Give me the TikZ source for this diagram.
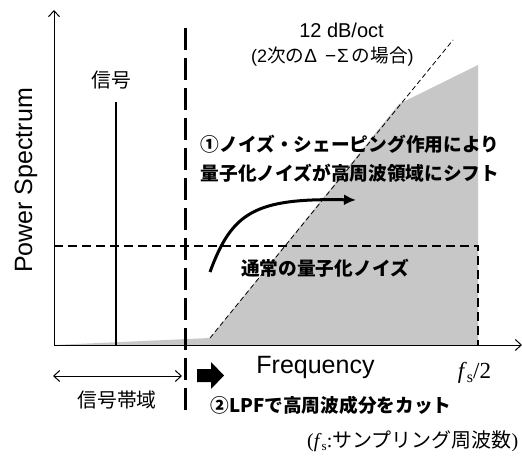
\documentclass[tikz,border=0pt]{standalone}
\usepackage{fontspec}
\setmainfont{Liberation Sans}
\newfontfamily\jp{Noto Sans CJK JP}
\newfontfamily\jpk{Noto Sans CJK JP Black}
\newfontfamily\tms{Liberation Serif}
\usetikzlibrary{arrows.meta}
\tikzset{
  jptext/.style={inner sep=0pt, font=\jp\fontsize{19.8}{22}\selectfont},
  jpbold/.style={inner sep=0pt, font=\jpk\fontsize{18.7}{29}\selectfont, align=center},
  latin/.style={inner sep=0pt, font=\fontsize{25}{30}\selectfont},
  axisline/.style={line width=1pt, -{Straight Barb[length=6pt,width=11pt]}},
  band/.style={line width=1pt, {Straight Barb[length=6pt,width=11pt]}-{Straight Barb[length=6pt,width=11pt]}},
  noisefill/.style={fill=black!22, draw=none},
  thinDash/.style={line width=1.2pt, dash pattern=on 9pt off 5pt},
  slopeDash/.style={line width=0.8pt, dash pattern=on 5pt off 3pt},
  lpfDash/.style={line width=3pt, dash pattern=on 22pt off 8pt},
}
\begin{document}
\begin{tikzpicture}[x=1pt,y=-1pt]
\useasboundingbox (0,0) rectangle (522,457);
% shaped noise
\fill[noisefill] (54,345) -- (210,338) -- (399,104) -- (478,65) -- (478,345) -- cycle;
% axes
\coordinate (O) at (54,345);
\coordinate (ytip) at (54,10);
\coordinate (xtip) at (522,345);
\draw[axisline] (O) -- (ytip);
\draw[axisline] (O) -- (xtip);
% signal
\coordinate (sigtop) at (116,102);
\coordinate (sigbot) at (116,345);
\draw[line width=2.4pt] (sigbot) -- (sigtop);
% flat quantization noise level
\coordinate (nl) at (54,246);
\coordinate (nr) at (478,246);
\coordinate (nb) at (478,345);
\draw[thinDash] (nl) -- (nr) -- (nb);
% 12 dB/oct slope
\coordinate (s0) at (210,338);
\coordinate (s1) at (453,40);
\draw[slopeDash] (s0) -- (s1);
% LPF cut line
\coordinate (c0) at (185,28);
\coordinate (c1) at (185,413);
\draw[lpfDash] (c0) -- (c1);
% curved arrow
\coordinate (a0) at (210,272);
\coordinate (a1) at (356,200);
\draw[line width=3pt, -{Latex[length=12pt,width=11pt]}] (a0) .. controls (232,212) and (255,198) .. (a1);
% signal band arrow
\coordinate (b0) at (53,376);
\coordinate (b1) at (182,376);
\draw[band] (b0) -- (b1);
% block arrow
\fill (197,369) -- (211,369) -- (211,362) -- (224,375.5) -- (211,389) -- (211,382) -- (197,382) -- cycle;
% texts
\node[jptext] (sig) at (111,80) {信号};
\node[latin, rotate=90, anchor=base] (ps) at (32,180.5) {Power Spectrum};
\node[latin, anchor=base] (freq) at (315.5,373) {Frequency};
\node[inner sep=0pt, anchor=base, font=\tms\fontsize{23}{26}\selectfont] (fs2) at (474.5,378) {\itshape f\/\upshape\raisebox{-4pt}{\fontsize{16}{18}\selectfont s}/2};
\node[inner sep=0pt, anchor=base, font=\fontsize{20}{22}\selectfont] (db) at (341.5,38) {12 dB/oct};
\node[inner sep=0pt, anchor=base west, font=\jp\fontsize{18.6}{22}\selectfont] (ds) at (251,63)
  {{\fontsize{18}{22}\rmfamily (2}次の{\fontsize{19}{22}\rmfamily Δ\hspace{8pt}−\hspace{1pt}Σ}\hspace{3pt}の場合{\fontsize{18}{22}\rmfamily )}};
\node[jpbold] (shift) at (350,158.5) {①ノイズ・シェーピング作用により\\量子化ノイズが高周波領域にシフト};
\node[jpbold] (qn) at (325,268) {通常の量子化ノイズ};
\node[jptext] (band) at (117,400) {信号帯域};
\node[jpbold] (lpf) at (331,405) {②LPFで高周波成分をカット};
\node[inner sep=0pt, anchor=base west, font=\jp\fontsize{20}{22}\selectfont] (fsn) at (307,447)
  {{\tms (\itshape f\/\upshape\raisebox{-3pt}{\fontsize{13}{14}\selectfont s}:}サンプリング周波数{\tms )}};
\end{tikzpicture}
\end{document}
